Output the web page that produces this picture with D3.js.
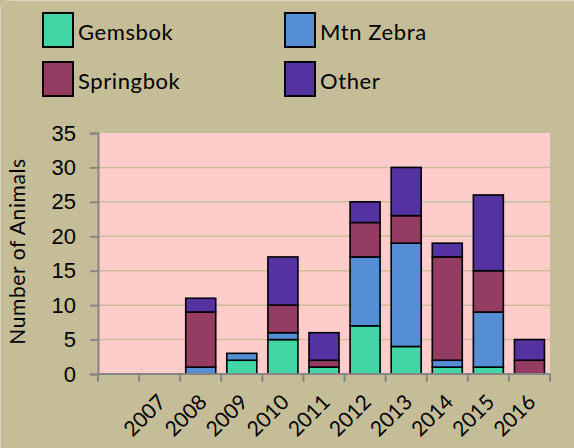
<!DOCTYPE html>
<html>
<head>
<meta charset="utf-8">
<script src="https://cdn.jsdelivr.net/npm/d3@7"></script>
<style>
  body { margin: 0; background: #c4bd97; }
  svg { display: block; font-family: Lato, "Open Sans", sans-serif; }
</style>
</head>
<body>
<svg id="chart" width="574" height="448"></svg>
<script>
// first slot has no label in the original chart
var years = ["", "2007", "2008", "2009", "2010", "2011", "2012", "2013", "2014", "2015", "2016"];
var gemsbok   = [0, 0, 0, 2, 5, 1, 7, 4, 1, 1, 0];
var mtnZebra  = [0, 0, 1, 1, 1, 0, 10, 15, 1, 8, 0];
var springbok = [0, 0, 8, 0, 4, 1, 5, 4, 15, 6, 2];
var other     = [0, 0, 2, 0, 7, 4, 3, 7, 2, 11, 3];

var seriesNames = ["Gemsbok", "Mtn Zebra", "Springbok", "Other"];
var colors = ["#42d6a6", "#558ed5", "#953c62", "#5433a0"];
var yTicks = [0, 5, 10, 15, 20, 25, 30, 35];

var W = 574, H = 448;
var margin = {left: 98, right: 24, top: 133, bottom: 74};

var svg = d3.select("#chart");

svg.append("rect")
    .attr("x", 0.5).attr("y", 0.5)
    .attr("width", W + 20).attr("height", H + 20)
    .attr("rx", 8)
    .style("fill", "#c4bd97")
    .style("stroke", "#d9d4bd");

var rows = years.map(function(y, i) {
    return {year: y, key: "k" + i, Gemsbok: gemsbok[i], "Mtn Zebra": mtnZebra[i],
            Springbok: springbok[i], Other: other[i]};
});

var x = d3.scaleBand()
    .domain(rows.map(function(d) { return d.key; }))
    .range([margin.left, W - margin.right])
    .paddingInner(0.27)
    .paddingOuter(0.135);

var y = d3.scaleLinear()
    .domain([0, 35])
    .range([H - margin.bottom, margin.top]);

// plot area
svg.append("rect")
    .attr("x", margin.left).attr("y", margin.top)
    .attr("width", W - margin.right - margin.left)
    .attr("height", y(0) - margin.top)
    .style("fill", "#ffcccc");

// grid lines
svg.append("g")
    .selectAll("line")
    .data(yTicks.filter(function(t) { return t > 0 && t < 35; }))
    .join("line")
    .attr("x1", margin.left).attr("x2", W - margin.right)
    .attr("y1", function(d) { return y(d); })
    .attr("y2", function(d) { return y(d); })
    .style("stroke", "#c9bd9a")
    .style("stroke-width", 1.5);

var stack = d3.stack().keys(seriesNames)(rows);

svg.append("g")
    .selectAll("g")
    .data(stack)
    .join("g")
    .style("fill", function(d, i) { return colors[i]; })
    .selectAll("rect")
    .data(function(d) { return d.filter(function(p) { return p[1] > p[0]; }); })
    .join("rect")
    .attr("x", function(d) { return x(d.data.key); })
    .attr("width", x.bandwidth())
    .attr("y", function(d) { return y(d[1]); })
    .attr("height", function(d) { return y(d[0]) - y(d[1]); })
    .style("stroke", "black")
    .style("stroke-width", 1.6);

// y axis
var yAxis = svg.append("g")
    .attr("transform", "translate(" + margin.left + ",0)")
    .call(d3.axisLeft(y).tickValues(yTicks).tickSize(8).tickPadding(14));
yAxis.selectAll("text").style("font-size", "22px").style("fill", "black");

// x axis, ticks at band boundaries
var xAxis = svg.append("g")
    .attr("transform", "translate(0," + y(0) + ")");
xAxis.append("line")
    .attr("x1", margin.left).attr("x2", W - margin.right)
    .style("stroke", "#868686").style("stroke-width", 2);
var bounds = d3.range(rows.length + 1).map(function(i) { return margin.left + (x.range()[1] - margin.left) * i / rows.length; });
xAxis.selectAll("line.tk")
    .data(bounds)
    .join("line")
    .attr("class", "tk")
    .attr("x1", function(d) { return d; }).attr("x2", function(d) { return d; })
    .attr("y1", 0).attr("y2", 8)
    .style("stroke", "#868686").style("stroke-width", 2);
xAxis.selectAll("text")
    .data(rows)
    .join("text")
    .attr("transform", function(d) {
        return "translate(" + (x(d.key) + x.bandwidth() / 2 - 3) + ",19) rotate(-45)";
    })
    .attr("text-anchor", "end")
    .attr("dy", "0.7em")
    .style("font-size", "21px")
    .text(function(d) { return d.year; });

yAxis.select(".domain").style("stroke", "#868686").style("stroke-width", 2);
yAxis.selectAll(".tick line").style("stroke", "#868686").style("stroke-width", 2);

svg.append("text")
    .attr("transform", "translate(25," + ((margin.top + y(0)) / 2 - 2) + ") rotate(-90)")
    .attr("text-anchor", "middle")
    .style("font-size", "21px")
    .style("letter-spacing", "0.6px")
    .text("Number of Animals");

// legend
var legendPos = [[43, 13], [285, 13], [43, 62], [285, 62]];
var lg = svg.append("g")
    .selectAll("g")
    .data([0, 1, 2, 3])
    .join("g")
    .attr("transform", function(d, i) { return "translate(" + legendPos[i][0] + "," + legendPos[i][1] + ")"; });
lg.append("rect")
    .attr("width", 30).attr("height", 34)
    .style("fill", function(d) { return colors[d]; })
    .style("stroke", "black").style("stroke-width", 2);
lg.append("text")
    .attr("x", 35).attr("y", 27)
    .style("font-size", "22px")
    .style("letter-spacing", "0.6px")
    .text(function(d) { return seriesNames[d]; });
</script>
</body>
</html>
